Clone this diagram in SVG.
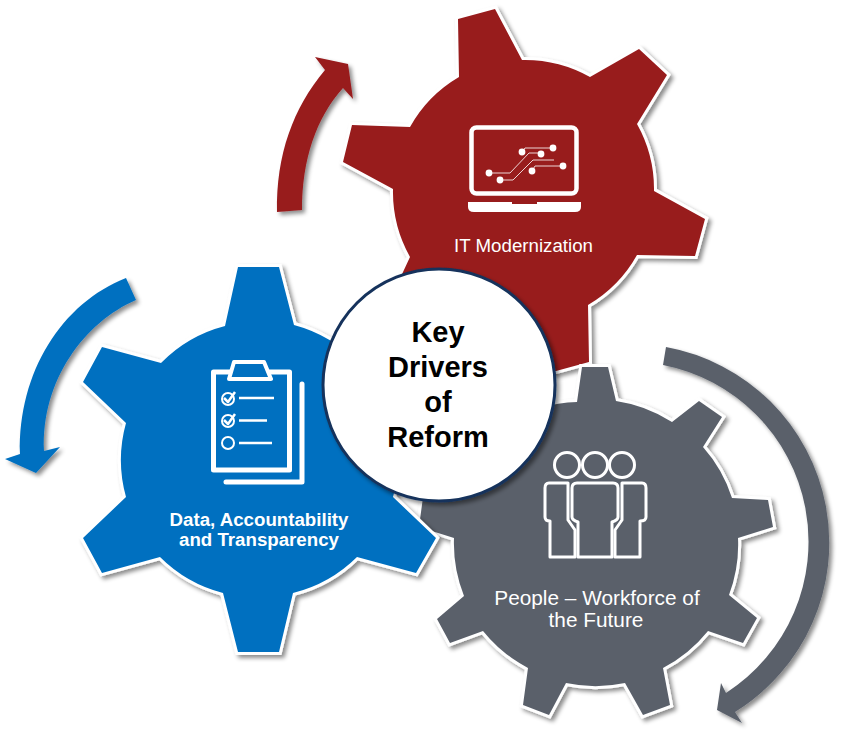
<svg xmlns="http://www.w3.org/2000/svg" width="844" height="738" viewBox="0 0 844 738">
<defs>
<filter id="sh" x="-10%" y="-10%" width="125%" height="125%"><feDropShadow dx="3" dy="3" stdDeviation="2.2" flood-color="#000" flood-opacity=".45"/></filter>
</defs>
<style>
.gear{stroke:#fff;stroke-width:6;paint-order:stroke;stroke-linejoin:miter;filter:url(#sh)}
.arrow{filter:url(#sh)}
.ic{fill:none;stroke:#fff;stroke-linejoin:round}
.w{fill:#fff}
.lbl{font-family:"Liberation Sans",Arial,sans-serif;font-size:18.7px;fill:#fff;text-anchor:middle}
.big{font-size:20.8px}
.key{font-family:"Liberation Sans",Arial,sans-serif;font-size:29px;font-weight:700;fill:#000;text-anchor:middle}
</style>
<g id="connectors">
<path class="arrow" fill="#981b1e" d="M277,212 C276,155 293,108 325,70 L315,57 L348,64 L353,99 L343,88 C316,118 302,160 302,210 Z"/>
<path class="arrow" fill="#0070c0" d="M126,278 L136,300 C85,322 41,380 44,451 L60,447 L36,473 L5,459 L20,454 C18,372 62,303 126,278 Z"/>
<path class="arrow" fill="#5a606b" d="M666,347 A199,199 0 0 1 735,712 L742,723 L717,710 L721,683 L726,693 A180,180 0 0 0 663,365 Z"/>
</g>
<g id="gear-it">
<path class="gear" fill="#981b1e" d="M458,19 L495,9 L522,60 A133,133 0 0 1 590,77 L639,49 L667,75 L637,124 A133,133 0 0 1 654,191 L705,219 L695,256 L637,255 A133,133 0 0 1 588,305 L589,362 L556,371 L420,370 L390,300 L410,257 A133,133 0 0 1 393,189 L343,162 L352,125 L410,127 A133,133 0 0 1 459,77 Z"/>
<rect class="ic" x="471.5" y="127.5" width="105" height="66" rx="5" stroke-width="4.5"/>
<path class="w" d="M468,202 H512 V204 H537 V202 H581 V207 Q581,212 575,212 H474 Q468,212 468,207 Z"/>
<path fill="none" stroke="#ecd4d4" stroke-width="1" d="M489,173 H510 L529,153 H541 M500,180 H513 L533,160 H554 M522,152 L525,148 H553 M532,171 L535,166 H563"/>
<g class="w"><circle cx="489" cy="173" r="3.4"/><circle cx="500" cy="180" r="3.4"/><circle cx="522" cy="152" r="3.4"/><circle cx="541" cy="154" r="3.4"/><circle cx="553" cy="148" r="3.4"/><circle cx="532" cy="171" r="3.4"/><circle cx="563" cy="166" r="3.4"/></g>
<text class="lbl" x="523.5" y="252">IT Modernization</text>
</g>
<g id="gear-people">
<path class="gear" fill="#5a606b" d="M582,367 L608,367 L616,401 A142,142 0 0 1 672,422 L699,401 L722,417 L703,447 A142,142 0 0 1 732,498 L768,500 L773,527 L738,538 A142,142 0 0 1 729,595 L757,618 L743,643 L708,631 A142,142 0 0 1 663,668 L670,705 L643,715 L625,683 A142,142 0 0 1 566,683 L549,715 L523,705 L528,668 A142,142 0 0 1 483,631 L450,643 L437,619 L464,596 A142,142 0 0 1 454,538 L419,527 L424,490 L470,470 L480,420 L540,408 A142,142 0 0 1 577,402 Z"/>
<g class="ic" stroke-width="3">
<circle cx="567" cy="465" r="12.500"/><circle cx="595" cy="465" r="12.500"/><circle cx="622" cy="465" r="12.500"/>
<path d="M577,483 H613 Q618,483 618,488 V517 Q618,520 612,522 V557 H578 V522 Q572,520 572,517 V488 Q572,483 577,483 Z"/>
<path d="M568,483 H549 Q545,483 545,488 V517 Q545,521 550,521 V557 H575 V530 L568,520 Z"/>
<path d="M622,483 H642 Q646,483 646,488 V517 Q646,521 640,521 V557 H615 V530 L622,520 Z"/>
</g>
<text class="lbl big" x="597" y="605">People – Workforce of</text>
<text class="lbl big" x="596" y="627">the Future</text>
</g>
<g id="gear-data">
<path class="gear" fill="#0070c0" d="M238,267 L279,267 L294,325 A138,138 0 0 1 358,363 L417,347 L436,382 L393,423 A138,138 0 0 1 393,497 L436,538 L416,573 L357,557 A138,138 0 0 1 293,593 L279,652 L238,652 L223,593 A138,138 0 0 1 160,557 L102,573 L83,538 L126,497 A138,138 0 0 1 126,423 L83,382 L102,347 L161,363 A138,138 0 0 1 225,326 Z"/>
<g class="ic">
<rect x="213.500" y="372" width="76" height="98" stroke-width="5"/>
<path d="M234,362 H264 L271,379 H229 Z" fill="#0070c0" stroke-width="4"/>
<path d="M302,384 V482 H226" stroke-width="5" stroke-linecap="round"/>
<circle cx="228" cy="399" r="6" stroke-width="2"/><circle cx="228" cy="421" r="6" stroke-width="2"/><circle cx="228" cy="443" r="6" stroke-width="2"/>
<path d="M224,398 L228,402 L235,392 M224,420 L228,424 L235,414" stroke-width="2.500"/>
<path d="M239,398 H274 M239,420.500 H267 M239,443 H272" stroke-width="2.500"/>
</g>
<text class="lbl" style="font-weight:700" x="259" y="526">Data, Accountability</text>
<text class="lbl" style="font-weight:700" x="259" y="546">and Transparency</text>
</g>
<g id="center">
<circle cx="439" cy="385" r="116" fill="#fff" stroke="#14335c" stroke-width="3" filter="url(#sh)"/>
<text class="key" x="438" y="342">Key</text>
<text class="key" x="438" y="377">Drivers</text>
<text class="key" x="438" y="412">of</text>
<text class="key" x="438" y="447">Reform</text>
</g>
</svg>
